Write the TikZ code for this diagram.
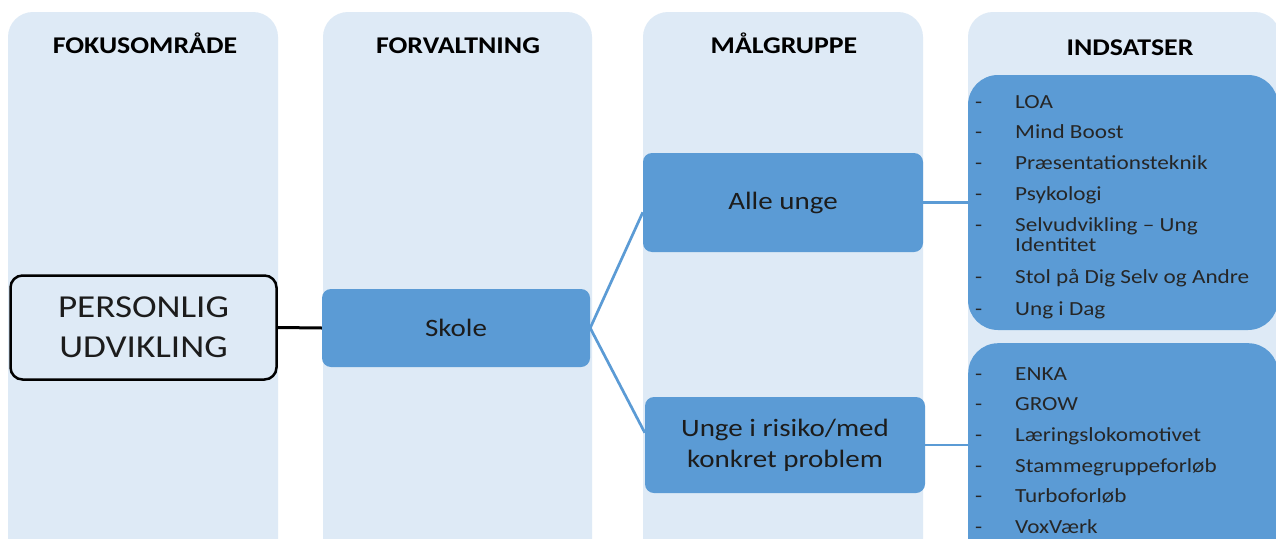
\documentclass[tikz,border=0pt]{standalone}
\usepackage{fontspec}
\setmainfont[FakeStretch=1.16]{Carlito}
\definecolor{colbg}{HTML}{DEEAF6}
\definecolor{boxblue}{HTML}{5B9BD5}
\definecolor{txt}{HTML}{1C1C1C}
\definecolor{listtxt}{HTML}{262626}
\tikzset{
  colbox/.style={fill=colbg, rounded corners=25pt},
  header/.style={anchor=base, font=\bfseries\fontsize{24}{28}\selectfont, text=black, inner sep=0pt},
  bluebox/.style={fill=boxblue, rounded corners=9pt, align=center, text=txt,
     font=\fontsize{25}{30}\selectfont, inner sep=0pt},
  listbox/.style={fill=boxblue, rounded corners=30pt, inner sep=0pt},
  item/.style={anchor=base west, font=\fontsize{20}{21}\selectfont, text=listtxt, inner sep=0pt},
  conn/.style={draw=boxblue, line width=2.7pt},
}
\begin{document}
\begin{tikzpicture}[x=1pt,y=-1pt]
\useasboundingbox (0,0) rectangle (1276,538);
\clip (0,0) rectangle (1276,538);
\fill[white] (0,0) rectangle (1276,538);
% columns
\fill[colbox] (8,12) rectangle (278,600);
\fill[colbox] (323,12) rectangle (592,600);
\fill[colbox] (643,12) rectangle (923,600);
\fill[colbox] (968,12) rectangle (1280,600);
% headers
\node[header] (h1) at (145,53) {FOKUSOMRÅDE};
\node[header] (h2) at (458,53) {FORVALTNING};
\node[header] (h3) at (784,53) {MÅLGRUPPE};
\node[header] (h4) at (1130,55) {INDSATSER};
% main boxes
\node[draw=black, line width=2.5pt, fill=colbg, rounded corners=12pt, align=center,
      minimum width=266pt, minimum height=104pt, inner sep=0pt, text=txt,
      font=\fontsize{32}{40}\selectfont] (pu) at (143.5,327.5) {PERSONLIG\\UDVIKLING};
\node[bluebox, minimum width=268pt, minimum height=78pt] (skole) at (456,328) {Skole};
\node[bluebox, minimum width=280pt, minimum height=99pt] (alle) at (783,202.5) {Alle unge};
\node[bluebox, minimum width=280pt, minimum height=96pt, font=\fontsize{25}{31}\selectfont] (unge) at (785,445) {Unge i risiko/med\\konkret problem};
% list boxes
\node[listbox, minimum width=310pt, minimum height=255pt] (list1) at (1123,202.5) {};
\node[listbox, minimum width=310pt, minimum height=255pt, anchor=north west] (list2) at (968,343) {};
% connectors
\draw[black, line width=3pt] (pu.east) -- (skole.west);
\draw[conn] (skole.east) -- (alle.184);
\draw[conn] (skole.east) -- (unge.175);
\draw[conn] (alle.east) -- (alle.east -| list1.west);
\draw[conn] (unge.east) -- (unge.east -| list2.west);
% list 1 items
\foreach \t/\y [count=\i] in {LOA/108, Mind Boost/138, Præsentationsteknik/169, Psykologi/200,
   Selvudvikling – Ung/231, Stol på Dig Selv og Andre/283, Ung i Dag/315}{
  \node[item] (a\i) at (1015,\y) {\t};
  \node[item] (ad\i) at (975,\y) {-};
}
\node[item] (a8) at (1015,251) {Identitet};
% list 2 items
\foreach \t/\y [count=\i] in {ENKA/380, GROW/410, Læringslokomotivet/441, Stammegruppeforløb/472,
   Turboforløb/502, VoxVærk/533}{
  \node[item] (b\i) at (1015,\y) {\t};
  \node[item] (bd\i) at (975,\y) {-};
}
\end{tikzpicture}
\end{document}
